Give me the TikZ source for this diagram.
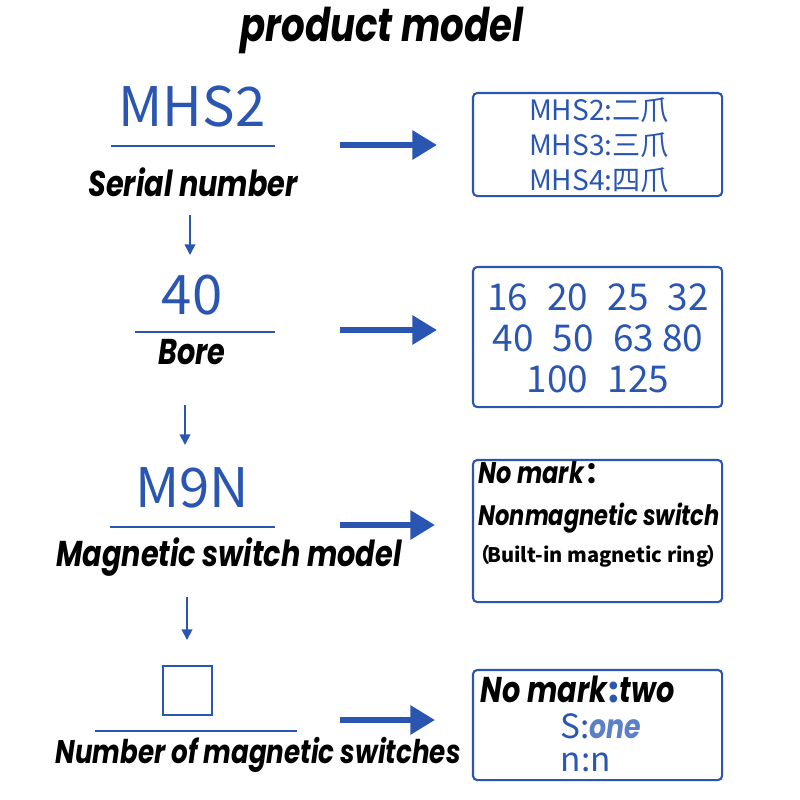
\documentclass[tikz,border=0pt]{standalone}
\usepackage{fontspec}
\setmainfont{Poppins}
\newfontfamily\labelfont{Poppins}[FakeStretch=0.8]
\newfontfamily\cjk{Noto Sans CJK SC}
\usetikzlibrary{arrows.meta}

\definecolor{modelblue}{HTML}{2A56B2}
\definecolor{paleblue}{HTML}{5B80C6}

\tikzset{
  value/.style={text=modelblue, font=\cjk\fontsize{15.5}{18}\selectfont},
  caption/.style={font=\labelfont\bfseries\itshape\fontsize{10.2}{12}\selectfont},
  boxtext/.style={text=modelblue, font=\cjk\fontsize{8}{10}\selectfont, align=center},
  boxline/.style={anchor=west, inner sep=0pt},
  optbox/.style={draw=modelblue, rounded corners=1.2pt, line width=0.6pt, anchor=north west,
    inner sep=0pt, outer sep=0pt},
  rule/.style={draw=modelblue, line width=0.6pt},
  bigarrow/.style={draw=modelblue, line width=1.6pt, -{Triangle[length=7pt,width=8pt]}},
  downarrow/.style={draw=modelblue, line width=0.5pt, -{Triangle[length=3pt,width=3pt]}},
}

\begin{document}
\begin{tikzpicture}[x=0.01cm, y=-0.01cm]
  \useasboundingbox (0, 0) rectangle (800, 800);

  \node[font=\labelfont\bfseries\itshape\fontsize{13.2}{16}\selectfont] (title) at (382, 30) {product model};

  % left column
  \node[value] (mhs) at (192, 107) {MHS2};
  \draw[rule] (111, 146) -- (275, 146);
  \node[caption] (serial) at (193, 182) {Serial number};

  \node[value] (bore) at (192, 295) {40};
  \draw[rule] (135, 332) -- (275, 332);
  \node[caption] (borecap) at (192, 352) {Bore};

  \node[value] (switch) at (192, 488) {M9N};
  \draw[rule] (110, 527) -- (275, 527);
  \node[caption] (switchcap) at (229, 557) {Magnetic switch model};

  \draw[modelblue, line width=0.8pt] (163, 666) rectangle (212, 715);
  \draw[rule] (95, 731) -- (297, 731);
  \node[caption, font=\labelfont\bfseries\itshape\fontsize{9.3}{11}\selectfont] (countcap) at (258, 755) {Number of magnetic switches};

  % down arrows
  \coordinate (d1a) at (190, 215); \coordinate (d1b) at (190, 255);
  \coordinate (d2a) at (185, 405); \coordinate (d2b) at (185, 445);
  \coordinate (d3a) at (187, 597); \coordinate (d3b) at (187, 640);
  \draw[downarrow] (d1a) -- (d1b);
  \draw[downarrow] (d2a) -- (d2b);
  \draw[downarrow] (d3a) -- (d3b);

  % option boxes
  \node[optbox, minimum width=2.49cm, minimum height=1.03cm] (box1) at (473, 93) {};
  \node[optbox, minimum width=2.49cm, minimum height=1.40cm] (box2) at (473, 267) {};
  \node[optbox, minimum width=2.49cm, minimum height=1.42cm] (box3) at (473, 460) {};
  \node[optbox, minimum width=2.49cm, minimum height=1.10cm] (box4) at (473, 670) {};

  \node[boxtext] (series) at (599, 145) {MHS2:二爪\\MHS3:三爪\\MHS4:四爪};
  \node[boxtext, font=\cjk\fontsize{10.5}{11.7}\selectfont] (bores) at (598, 338)
    {16\hspace{5.5pt}20\hspace{5.5pt}25\hspace{5.5pt}32\\40\hspace{5.5pt}50\hspace{5.5pt}63 80\\100\hspace{5.5pt}125};

  \node[boxline, font=\labelfont\bfseries\itshape\fontsize{8.5}{10}\selectfont] (nomark) at (478, 473) {No mark\cjk{：}};
  \node[boxline, font=\labelfont\bfseries\itshape\fontsize{8}{10}\selectfont] (nonmag) at (478, 518) {Nonmagnetic switch};
  \node[boxline, font=\labelfont\bfseries\itshape\fontsize{5.7}{8}\selectfont] (ring) at (470, 556)
    {\cjk{（}\kern-1pt Built-in magnetic ring\kern-0.5pt\cjk{）}};

  \node[boxline, text depth=0pt, font=\labelfont\bfseries\itshape\fontsize{10.2}{12}\selectfont] (two) at (480, 689) {No mark{\cjk\color{modelblue}:}two};
  \node[boxline, text=modelblue, font=\cjk\fontsize{9.5}{12}\selectfont] (one) at (560, 726) {S:{\labelfont\bfseries\itshape\color{paleblue}one}};
  \node[boxline, text=modelblue, font=\cjk\fontsize{9.5}{12}\selectfont] (nn) at (560, 762) {n:n};

  % right arrows
  \coordinate (r1) at (340, 145); \coordinate (r2) at (340, 330);
  \coordinate (r3) at (340, 525); \coordinate (r4) at (340, 720);
  \coordinate (t1) at (437, 145); \coordinate (t2) at (437, 330);
  \coordinate (t3) at (435, 525); \coordinate (t4) at (435, 720);
  \draw[bigarrow] (r1) -- (t1);
  \draw[bigarrow] (r2) -- (t2);
  \draw[bigarrow] (r3) -- (t3);
  \draw[bigarrow] (r4) -- (t4);
\end{tikzpicture}
\end{document}
